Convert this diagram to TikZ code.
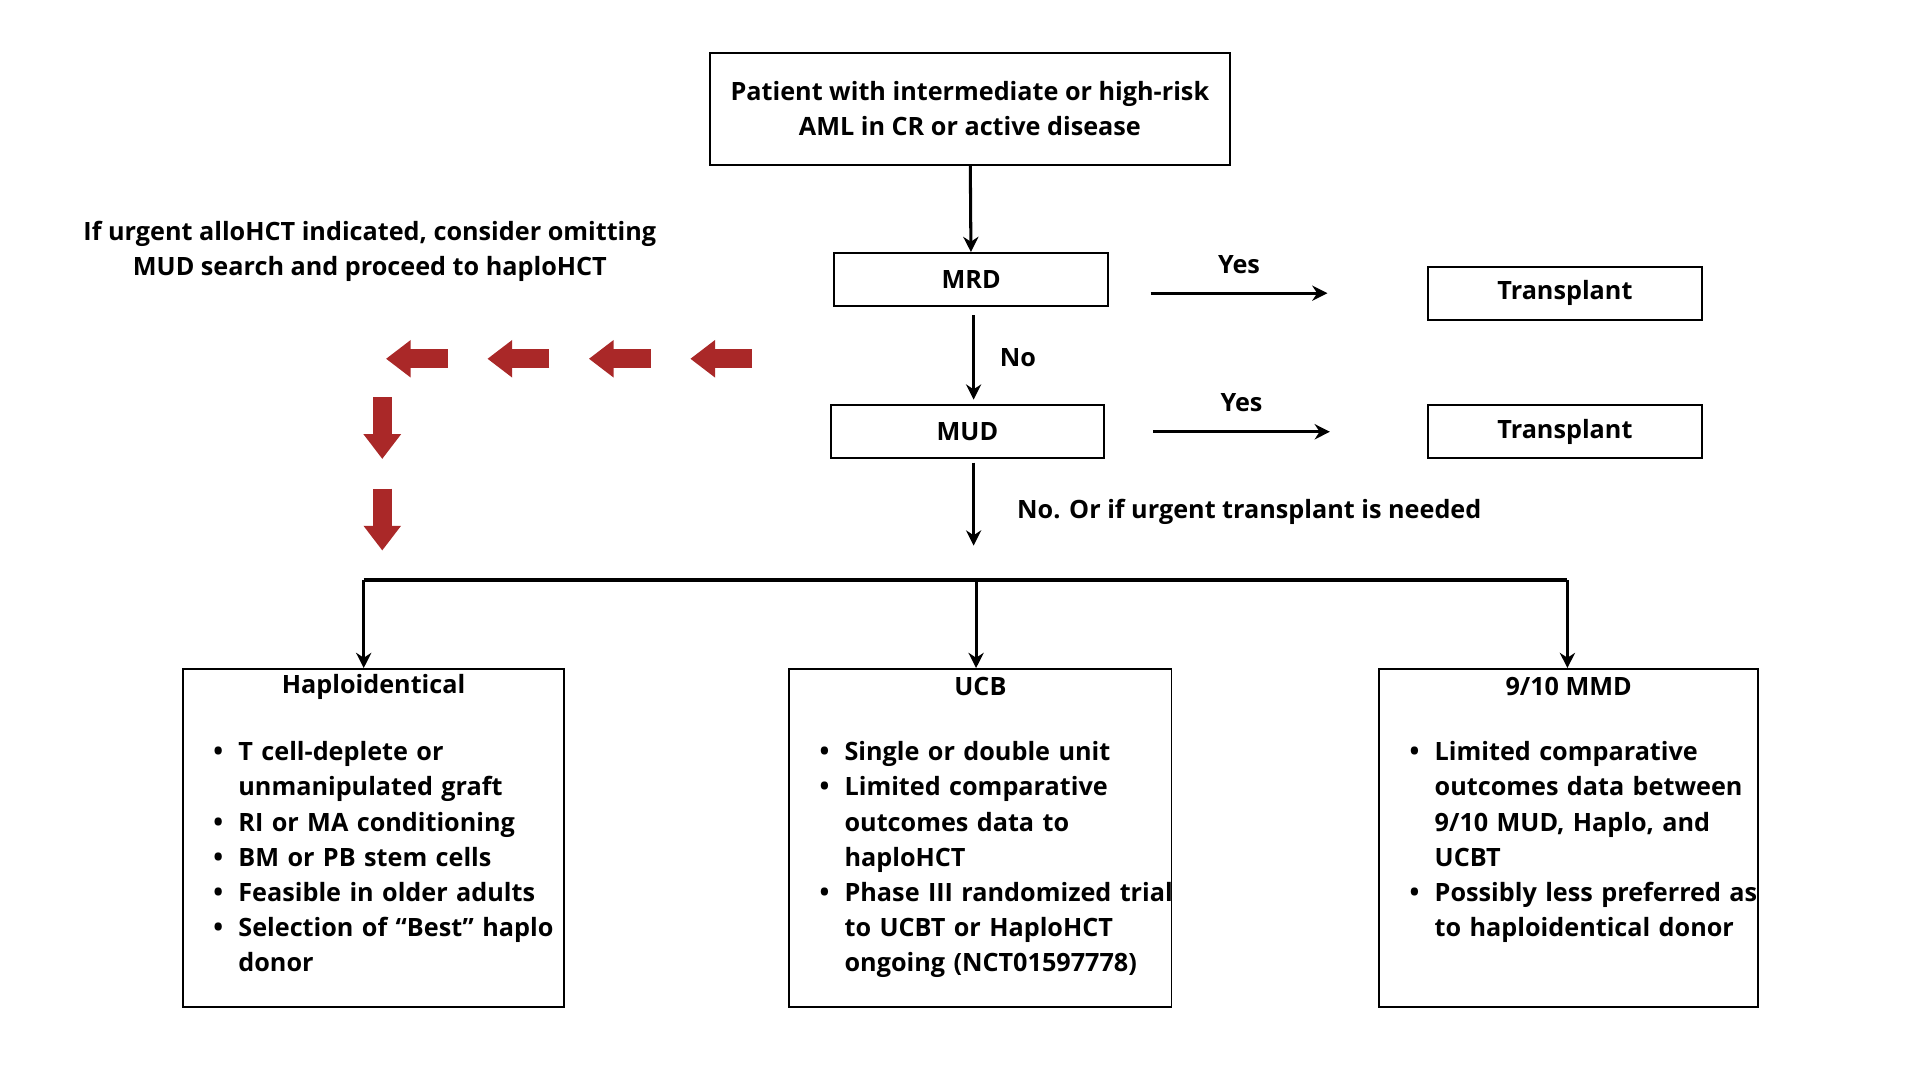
\documentclass[tikz,border=0pt]{standalone}
\usepackage{fontspec}
\setmainfont{Open Sans}
\usepackage{enumitem}
\usetikzlibrary{arrows.meta, positioning}
\definecolor{darkred}{RGB}{170,40,40}
\tikzstyle{box} = [rectangle, draw, line width=0.9pt, align=center, inner sep=0pt]
\tikzstyle{line} = [draw, line width=1.4pt, -{Stealth[length=7pt,width=7pt]}]
\tikzstyle{redarrow} = [draw=darkred, line width=0.3cm, -{Triangle[length=0.4cm,width=0.58cm]}]

\begin{document}
\begin{tikzpicture}[x=0.02cm, y=-0.02cm, font=\bfseries\fontsize{11.6}{16.2}\selectfont,
    lst/.style={text width=#1, align=left, inner sep=0pt, anchor=north west}
    ]
    \useasboundingbox (0,0) rectangle (1552,873);

    \node[box, minimum width=8.4cm, minimum height=1.8cm] (patient) at (784,88)
        {Patient with intermediate or high-risk\\AML in CR or active disease};
    \node[box, minimum width=4.42cm, minimum height=0.86cm] (mrd) at (785,226) {MRD};
    \node[box, minimum width=4.42cm, minimum height=0.86cm] (mud) at (782,349) {MUD};
    \node[box, minimum width=4.42cm, minimum height=0.86cm] (tx1) at (1265,237) {Transplant};
    \node[box, minimum width=4.42cm, minimum height=0.86cm] (tx2) at (1265,349) {Transplant};

    \node[align=center] (urgent) at (299,203)
        {If urgent alloHCT indicated, consider omitting\\MUD search and proceed to haploHCT};

    % coordinates for the arrows
    \coordinate (y1a) at (930,237);  \coordinate (y1b) at (1073,237);
    \coordinate (y2a) at (932,349);  \coordinate (y2b) at (1075,349);
    \coordinate (m1) at (787,255);   \coordinate (m2) at (787,323);
    \coordinate (d1) at (787,374);   \coordinate (d2) at (787,441);
    \coordinate (busl) at (294,469); \coordinate (busm) at (789,469); \coordinate (busr) at (1267,469);

    \draw[line] (patient) -- (mrd);
    \draw[line] (y1a) -- node[above=5pt]{Yes} (y1b);
    \draw[line] (y2a) -- node[above=5pt]{Yes} (y2b);
    \draw[line] (m1) -- node[right=8pt]{No} (m2);
    \draw[line] (d1) -- (d2);
    \node[anchor=west] (urgtx) at (816,414) {No. Or if urgent transplant is needed};

    \draw[line width=1.6pt] (busl) -- (busr);

    % bottom boxes
    \node[box, minimum width=6.16cm, minimum height=5.46cm, anchor=north] (haplo) at (302,540) {};
    \node[box, minimum width=6.18cm, minimum height=5.46cm, anchor=north] (ucb) at (792.5,540) {};
    \node[box, minimum width=6.12cm, minimum height=5.46cm, anchor=north] (mmd) at (1268,540) {};

    \draw[line] (busl) -- (busl |- haplo.north);
    \draw[line] (busm) -- (busm |- ucb.north);
    \draw[line] (busr) -- (busr |- mmd.north);

    \node (haplotitle) at (302,555) {Haploidentical};
    \node (ucbtitle) at (792.5,555) {UCB};
    \node (mmdtitle) at (1268,555) {9/10 MMD};

    \setlist[itemize]{leftmargin=15pt, itemsep=0pt, topsep=0pt, parsep=0pt, labelsep=7pt,
        label={\large\textbullet}}
    \node[lst=5.75cm] (haplolist) at (166,586) {\begin{itemize}
        \item T cell-deplete or unmanipulated graft
        \item RI or MA conditioning
        \item BM or PB stem cells
        \item Feasible in older adults
        \item Selection of “Best” haplo donor
    \end{itemize}};
    \node[lst=5.95cm] (ucblist) at (656,586) {\begin{itemize}
        \item Single or double unit
        \item Limited comparative outcomes data to haploHCT
        \item Phase III randomized trial to UCBT or HaploHCT ongoing (NCT01597778)
    \end{itemize}};
    \node[lst=5.85cm] (mmdlist) at (1133,586) {\begin{itemize}
        \item Limited comparative outcomes data between 9/10 MUD, Haplo, and UCBT
        \item Possibly less preferred as to haploidentical donor
    \end{itemize}};

    % red arrows
    \foreach \x [count=\i] in {608,526,444,362} {
        \coordinate (ra\i) at (\x,290);
        \draw[redarrow] (ra\i) -- ++(-50,0);
    }
    \foreach \y [count=\i] in {321,395} {
        \coordinate (rd\i) at (309,\y);
        \draw[redarrow] (rd\i) -- ++(0,50);
    }
\end{tikzpicture}
\end{document}
